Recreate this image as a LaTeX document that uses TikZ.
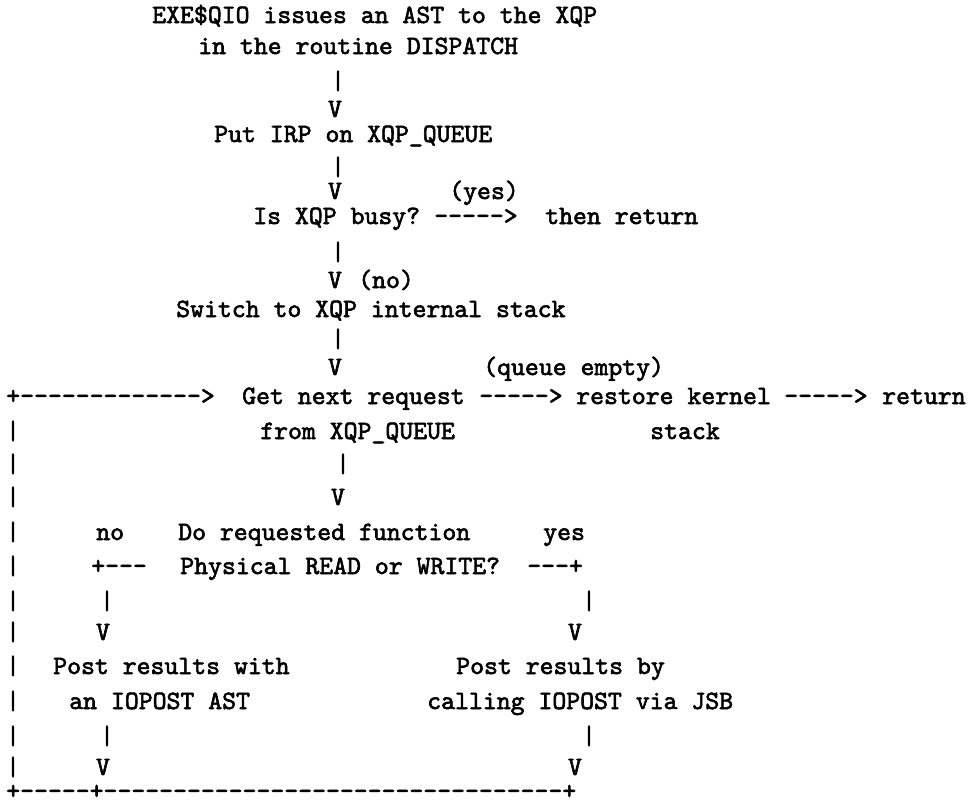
\documentclass[tikz,border=0pt]{standalone}
\usepackage{fontspec}
\newfontfamily\monob{lmmono10-regular.otf}[FakeBold=2.2]
\newcommand\ttt{\fontsize{19.86pt}{24pt}\monob\bfseries}
\newcommand\dd[1]{\foreach \k in {1,...,#1}{\mbox{-}}}
\tikzset{
  txt/.style={font=\ttt, inner sep=0pt, anchor=base west},
  glyph/.style={font=\ttt, inner sep=0pt, anchor=base}
}
\begin{document}
\begin{tikzpicture}[x=0.75pt,y=-0.75pt]
\useasboundingbox[fill=white] (0,0) rectangle (969,804);
% top section
\node[txt] (t1) at (152,23) {EXE\$QIO issues an AST to the XQP};
\node[txt] (t2) at (198,54) {in the routine DISPATCH};
\node[glyph] (b1) at (338,89) {|};
\node[glyph] (v1) at (335,117) {V};
\node[txt] (t3) at (214,142) {Put IRP on XQP\_QUEUE};
\node[glyph] (b2) at (338,175) {|};
\node[glyph] (v2) at (335,199) {V};
\node[txt] (yes1) at (449,199) {(yes)};
\node[txt] (t4) at (253,224) {Is XQP busy?};
\node[txt] (a1) at (434,224) {\dd{5}>};
\node[txt] (t5) at (545,224) {then return};
\node[glyph] (b3) at (338,260) {|};
\node[glyph] (v3) at (335,288) {V};
\node[txt] (no1) at (358,288) {(no)};
\node[txt] (t6) at (176,317) {Switch to XQP internal stack};
\node[glyph] (b4) at (338,347) {|};
\node[glyph] (v4) at (335,375) {V};
\node[txt] (qe) at (483,375) {(queue empty)};
% main loop line
\node[txt] (a2) at (6,404) {+\dd{13}>};
\node[txt] (t7) at (242,404) {Get next request};
\node[txt] (a3) at (479,404) {\dd{5}>};
\node[txt] (t8) at (576,404) {restore kernel};
\node[txt] (a4) at (784,404) {\dd{5}>};
\node[txt] (t9) at (882,404) {return};
\node[txt] (t10) at (260,439) {from XQP\_QUEUE};
\node[txt] (t11) at (650,439) {stack};
\node[glyph] (b5) at (343,472) {|};
\node[glyph] (v5) at (338,505) {V};
\node[txt] (no2) at (96,540) {no};
\node[txt] (t12) at (178,540) {Do requested function};
\node[txt] (yes2) at (543,540) {yes};
\node[txt] (a5) at (91,574) {+\dd{3}};
\node[txt] (t13) at (180,574) {Physical READ or WRITE?};
\node[txt] (a6) at (527,574) {\dd{3}+};
\node[glyph] (b6) at (107,609) {|};
\node[glyph] (b7) at (589,609) {|};
\node[glyph] (v6) at (103,640) {V};
\node[glyph] (v7) at (575,640) {V};
\node[txt] (t14) at (53,674) {Post results with};
\node[txt] (t15) at (456,674) {Post results by};
\node[txt] (t16) at (69,709) {an IOPOST AST};
\node[txt] (t17) at (427,709) {calling IOPOST via JSB};
\node[glyph] (b8) at (107,744) {|};
\node[glyph] (b9) at (589,744) {|};
\node[glyph] (v8) at (103,775) {V};
\node[glyph] (v9) at (575,775) {V};
% left return path
\node[glyph] (p1) at (13,439) {|};
\node[glyph] (p2) at (13,472) {|};
\node[glyph] (p3) at (13,505) {|};
\node[glyph] (p4) at (13,540) {|};
\node[glyph] (p5) at (13,574) {|};
\node[glyph] (p6) at (13,609) {|};
\node[glyph] (p7) at (13,640) {|};
\node[glyph] (p8) at (13,674) {|};
\node[glyph] (p9) at (13,709) {|};
\node[glyph] (p10) at (13,744) {|};
\node[glyph] (p11) at (13,775) {|};
\node[txt] (a7) at (6,799) {+\dd{5}+\dd{33}+};
\end{tikzpicture}
\end{document}
